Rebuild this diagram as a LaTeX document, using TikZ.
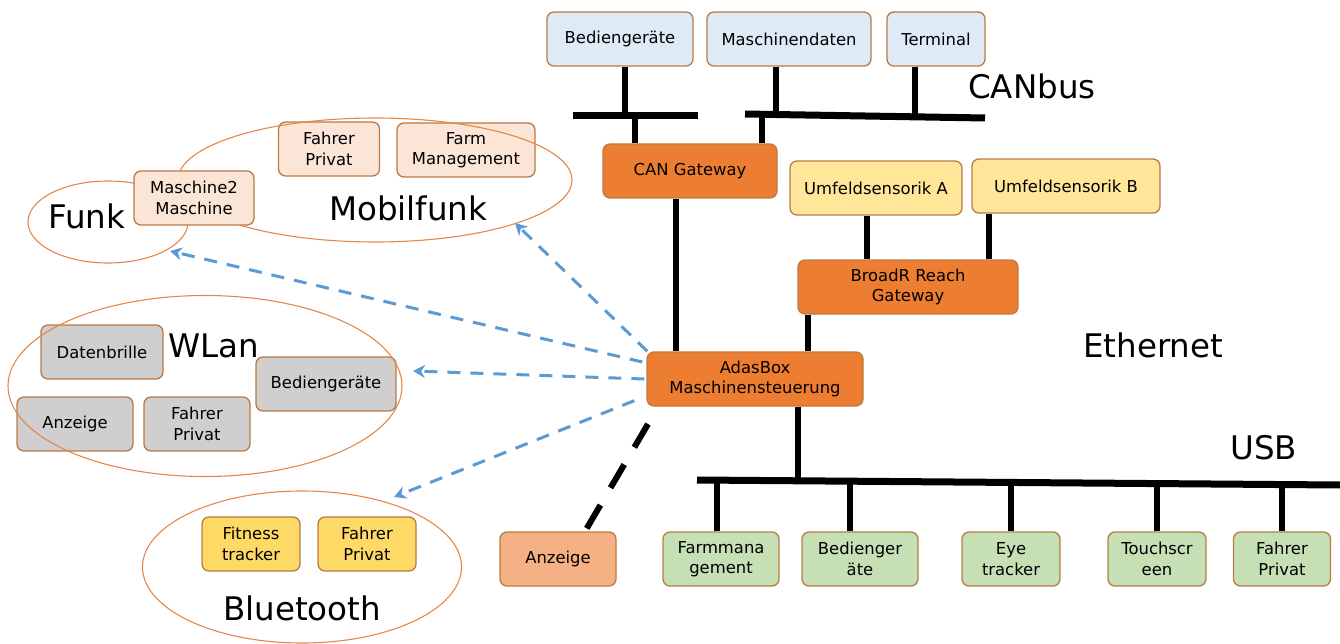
\documentclass[tikz,border=0pt]{standalone}
\usepackage{fontspec}
\setmainfont{DejaVu Sans}
\usetikzlibrary{shapes.geometric,arrows.meta}

\definecolor{boxline}{HTML}{BA7A45}
\definecolor{ringline}{HTML}{E3884A}
\definecolor{canblue}{HTML}{DEEBF7}
\definecolor{gworange}{HTML}{ED7D31}
\definecolor{m2mpeach}{HTML}{FBE5D6}
\definecolor{sensyellow}{HTML}{FFE699}
\definecolor{wlangray}{HTML}{D0CECE}
\definecolor{btgold}{HTML}{FFD966}
\definecolor{usbgreen}{HTML}{C5E0B4}
\definecolor{anzorange}{HTML}{F4B183}
\definecolor{funkblue}{HTML}{5B9BD5}

\begin{document}
\begin{tikzpicture}[x=1pt, y=-1pt,
    box/.style={draw=boxline, line width=1.3pt, rounded corners=7pt, minimum height=54pt,
        inner sep=2pt, align=center, font=\fontsize{16.4}{20.5}\selectfont},
    bus/.style={line width=6pt},
    ring/.style={draw=ringline, line width=1.1pt, ellipse, inner sep=0pt},
    biglabel/.style={anchor=base west, inner sep=0pt, font=\fontsize{32.5}{39}\selectfont},
    funklink/.style={funkblue, line width=3pt, dash pattern=on 13pt off 10pt,
        -{Stealth[length=12pt,width=13pt]}},
    cable/.style={line width=6pt, dash pattern=on 27pt off 20pt}]

    \useasboundingbox (0,0) rectangle (1340,644);

    % --- CANbus ---
    \node[box, fill=canblue, minimum width=146] (bed1) at (620,39) {Bediengeräte};
    \node[box, fill=canblue, minimum width=164] (mdat) at (789,39) {Maschinendaten};
    \node[box, fill=canblue, minimum width=98] (term) at (936,39) {Terminal};
    \node[box, fill=gworange, minimum width=174] (cangw) at (690,171) {CAN Gateway};
    \node[biglabel] (canlbl) at (968,99) {CANbus};

    \coordinate (canLa) at (573,116);
    \coordinate (canLb) at (698,116);
    \coordinate (canRa) at (745,114);
    \coordinate (canRb) at (985,118);
    \draw[line width=7pt] (canLa) -- (canLb);
    \draw[line width=7pt] (canRa) -- (canRb);

    \coordinate (jBed) at (625,116);
    \coordinate (jMdat) at (776,114);
    \coordinate (jTerm) at (915,117);
    \coordinate (jGwL) at (635,116);
    \coordinate (jGwR) at (762,114);
    \draw[bus] (jBed |- bed1.south) -- (jBed);
    \draw[bus] (jMdat |- mdat.south) -- (jMdat);
    \draw[bus] (jTerm |- term.south) -- (jTerm);
    \draw[bus] (jGwL) -- (jGwL |- cangw.north);
    \draw[bus] (jGwR) -- (jGwR |- cangw.north);

    % --- Ethernet ---
    \node[box, fill=sensyellow, minimum width=172] (umA) at (876,188) {Umfeldsensorik A};
    \node[box, fill=sensyellow, minimum width=188] (umB) at (1066,186) {Umfeldsensorik B};
    \node[box, fill=gworange, minimum width=220] (broadr) at (908,287) {BroadR Reach\\Gateway};
    \node[box, fill=gworange, minimum width=216] (adas) at (755,379) {AdasBox\\Maschinensteuerung};
    \node[biglabel] (ethlbl) at (1083,357) {Ethernet};

    \draw[bus] ([xshift=-9pt]umA.south) -- ([xshift=-41pt]broadr.north);
    \draw[bus] ([xshift=-77pt]umB.south) -- ([xshift=81pt]broadr.north);
    \draw[bus] ([xshift=-100pt]broadr.south) -- ([xshift=53pt]adas.north);
    \draw[bus] ([xshift=-14pt]cangw.south) -- ([xshift=-79pt]adas.north);

    % --- USB ---
    \node[box, fill=usbgreen, minimum width=116] (usbfarm) at (721,559) {Farmmana\\gement};
    \node[box, fill=usbgreen, minimum width=116] (usbbed) at (860,559) {Bedienger\\äte};
    \node[box, fill=usbgreen, minimum width=98] (usbeye) at (1011,559) {Eye\\tracker};
    \node[box, fill=usbgreen, minimum width=98] (usbtouch) at (1157,559) {Touchscr\\een};
    \node[box, fill=usbgreen, minimum width=97] (usbfp) at (1282,559) {Fahrer\\Privat};
    \node[biglabel] (usblbl) at (1230,459) {USB};

    \coordinate (usbA) at (697,480);
    \coordinate (usbB) at (1340,485);
    \draw[line width=7pt] (usbA) -- (usbB);
    \coordinate (jAdas) at (798,481);
    \draw[bus] (jAdas |- adas.south) -- (jAdas);
    \foreach \dev/\dx in {usbfarm/-4, usbbed/-10, usbeye/0, usbtouch/0, usbfp/0}
        \draw[bus] ([xshift=\dx pt]\dev.north) -- ++(0,-50);

    % --- Anzeige ---
    \node[box, fill=anzorange, minimum width=116] (anz) at (558,559) {Anzeige};
    \coordinate (cableTop) at (648,424);
    \draw[cable] (cableTop) -- ([xshift=27pt]anz.north);

    % --- Mobilfunk / Funk ---
    \node[box, fill=m2mpeach, minimum width=101] (mfp) at (329,149) {Fahrer\\Privat};
    \node[box, fill=m2mpeach, minimum width=138] (mfarm) at (466,150) {Farm\\Management};
    \node[ring, minimum width=394, minimum height=124] (mobil) at (375,180) {};
    \node[ring, minimum width=160, minimum height=82] (funk) at (108,222) {};
    \node[box, fill=m2mpeach, minimum width=120] (m2m) at (194,198) {Maschine2\\Maschine};
    \node[biglabel] (mobillbl) at (329,221) {Mobilfunk};
    \node[biglabel] (funklbl) at (48,229) {Funk};

    % --- WLan ---
    \node[box, fill=wlangray, minimum width=122] (wdbr) at (102,352) {Datenbrille};
    \node[box, fill=wlangray, minimum width=140] (wbed) at (326,384) {Bediengeräte};
    \node[box, fill=wlangray, minimum width=116] (wanz) at (75,424) {Anzeige};
    \node[box, fill=wlangray, minimum width=106] (wfp) at (197,424) {Fahrer\\Privat};
    \node[ring, minimum width=394, minimum height=181] (wlan) at (205,386) {};
    \node[biglabel] (wlanlbl) at (168,357) {WLan};

    % --- Bluetooth ---
    \node[box, fill=btgold, minimum width=98] (bfit) at (251,544) {Fitness\\tracker};
    \node[box, fill=btgold, minimum width=98] (bfp) at (367,544) {Fahrer\\Privat};
    \node[ring, minimum width=319, minimum height=152] (bt) at (302,567) {};
    \node[biglabel] (btlbl) at (223,620) {Bluetooth};

    % Funkverbindungen von der AdasBox
    \coordinate (tipMobil) at (515,223);
    \coordinate (tipFunk) at (170,251);
    \coordinate (tipWlan) at (413,371);
    \coordinate (tipBt) at (394,497);
    \draw[funklink] ([xshift=1pt]adas.north west) -- (tipMobil);
    \draw[funklink] ([shift={(-4pt,17pt)}]adas.west) -- (tipFunk);
    \draw[funklink] ([xshift=-2pt]adas.west) -- (tipWlan);
    \draw[funklink] ([shift={(-12pt,6pt)}]adas.south west) -- (tipBt);
\end{tikzpicture}
\end{document}
